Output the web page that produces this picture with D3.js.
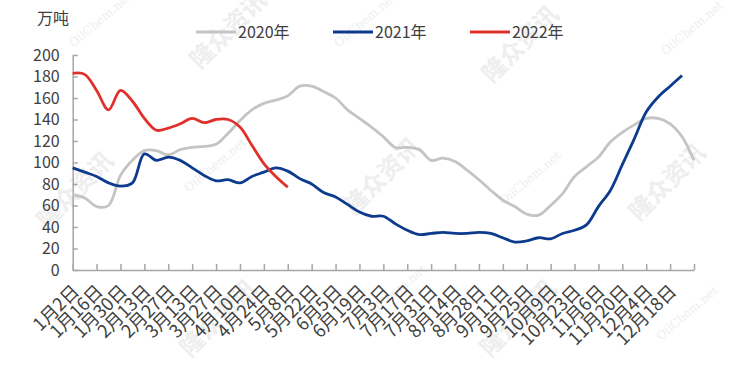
<!DOCTYPE html>
<html>
<head>
<meta charset="utf-8">
<script src="https://cdn.jsdelivr.net/npm/d3@7/dist/d3.min.js"></script>
<style>
  body { margin: 0; background: #fff; }
  text { font-family: "Noto Sans CJK SC", "Noto Sans", sans-serif; }
</style>
</head>
<body>
<script>
// weekly data, one point per week starting 1月2日 (axis has 53 week slots)
const tickLabels = ["1月2日", "1月16日", "1月30日", "2月13日", "2月27日", "3月13日", "3月27日",
  "4月10日", "4月24日", "5月8日", "5月22日", "6月5日", "6月19日", "7月3日", "7月17日",
  "7月31日", "8月14日", "8月28日", "9月11日", "9月25日", "10月9日", "10月23日", "11月6日",
  "11月20日", "12月4日", "12月18日"];

const yTicks = [0, 20, 40, 60, 80, 100, 120, 140, 160, 180, 200];

const seriesNames = ["2020年", "2021年", "2022年"];
const seriesColors = ["#c4c4c4", "#0c3b8e", "#e0302a"];

const s2020 = [70, 67, 59, 60, 88, 102, 111, 111, 107, 112, 114, 115, 117, 127, 139, 149, 155, 158, 162,
  171, 171, 166, 160, 149, 141, 133, 124, 114, 114, 112, 102, 104, 101, 93, 84, 74, 65, 59, 52,
  51, 60, 71, 87, 96, 105, 119, 128, 135, 141, 141, 136, 124, 102];

const s2021 = [95, 91, 87, 81, 78, 81, 108, 102, 105, 102, 95, 88, 83, 84, 81, 87, 91, 95, 92, 85,
  80, 72, 68, 61, 54, 50, 50, 43, 37, 33, 34, 35, 34, 34, 35, 34, 30, 26, 27, 30,
  29, 34, 37, 42, 59, 74, 98, 122, 147, 161, 171, 181];

const s2022 = [183, 182, 167, 149, 167, 157, 141, 130, 132, 136, 141, 137, 140, 140, 133, 116, 99, 87, 77];

const series = [s2020, s2021, s2022];

const W = 749, H = 373;

const svg = d3.select("body").append("svg")
    .attr("width", W)
    .attr("height", H);

// faint watermarks behind everything
const wmBig = [[75, 190], [228, 30], [218, 318], [382, 176], [520, 44], [518, 318], [667, 182]];
const wmSmall = [[100, 20], [365, 20], [692, 28], [215, 165], [530, 178], [687, 313], [395, 292]];

svg.selectAll(".wm1").data(wmBig).enter().append("text")
    .attr("transform", d => `translate(${d[0]},${d[1]}) rotate(-45)`)
    .attr("text-anchor", "middle")
    .attr("dy", "0.35em")
    .style("font-size", "24px")
    .style("font-weight", "bold")
    .style("fill", "#eeeeee")
    .text("隆众资讯");

svg.selectAll(".wm2").data(wmSmall).enter().append("text")
    .attr("transform", d => `translate(${d[0]},${d[1]}) rotate(-40)`)
    .attr("text-anchor", "middle")
    .attr("dy", "0.35em")
    .style("font-family", "DejaVu Serif, serif")
    .style("font-size", "12px")
    .style("fill", "#eeeeee")
    .text("OilChem.net");

const x = d3.scaleLinear().domain([0, 52]).range([72.7, 694]);
const y = d3.scaleLinear().domain([0, 200]).range([270, 55]);

// y axis, ticks pointing inward
const yAxis = svg.append("g")
    .attr("transform", `translate(${x(0)},0)`)
    .call(d3.axisLeft(y).tickValues(yTicks).tickSize(-5).tickSizeOuter(0).tickPadding(13));

yAxis.selectAll("text")
    .style("font-size", "16px")
    .style("fill", "#404040");

// x axis, one tick every two weeks
const xAxis = svg.append("g")
    .attr("transform", `translate(0,${y(0)})`)
    .call(d3.axisBottom(x).tickValues(d3.range(0, 53, 2)).tickSize(-6).tickSizeOuter(0).tickFormat(""));

svg.selectAll(".domain, .tick line")
    .style("stroke", "#a6a6a6")
    .style("stroke-width", "1.5px");

svg.selectAll(".xlab").data(tickLabels).enter().append("text")
    .attr("transform", (d, i) => `translate(${x(i * 2) + 3},${y(0) + 18}) rotate(-45)`)
    .attr("text-anchor", "end")
    .attr("dy", "0.35em")
    .style("font-size", "18px")
    .style("fill", "#404040")
    .text(d => d);

// unit label
svg.append("text")
    .attr("x", 37)
    .attr("y", 24)
    .style("font-size", "16px")
    .style("fill", "#404040")
    .text("万吨");

// the lines
const line = d3.line()
    .x((d, i) => x(i))
    .y(d => y(d))
    .curve(d3.curveCatmullRom.alpha(0.5));

series.forEach((s, k) => {
  svg.append("path")
      .datum(s)
      .attr("d", line)
      .style("fill", "none")
      .style("stroke", seriesColors[k])
      .style("stroke-width", "2.8px")
      .style("stroke-linejoin", "round");
});

// legend
const legend = svg.selectAll(".legend").data(seriesNames).enter().append("g")
    .attr("transform", (d, i) => `translate(${196 + i * 137},32)`);

legend.append("line")
    .attr("x1", 0).attr("x2", 40)
    .style("stroke", (d, i) => seriesColors[i])
    .style("stroke-width", "2.8px");

legend.append("text")
    .attr("x", 42)
    .attr("dy", "0.35em")
    .style("font-size", "16px")
    .style("fill", "#404040")
    .text(d => d);
</script>
</body>
</html>
